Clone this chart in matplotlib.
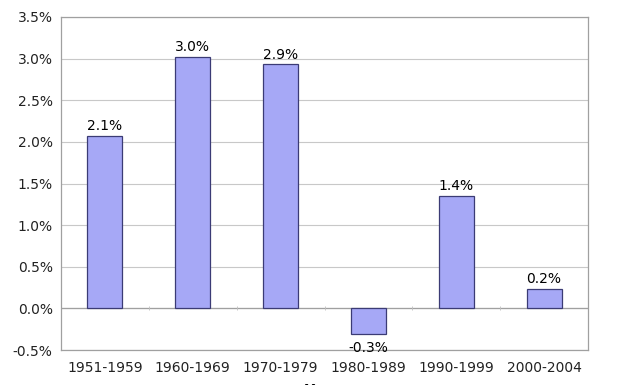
import numpy as np
import matplotlib
matplotlib.use("Agg")
import matplotlib.pyplot as plt
from matplotlib.ticker import FuncFormatter

periods = ["1951-1959", "1960-1969", "1970-1979", "1980-1989", "1990-1999", "2000-2004"]
growth = [2.07, 3.02, 2.93, -0.31, 1.35, 0.23]
labels = ["2.1%", "3.0%", "2.9%", "-0.3%", "1.4%", "0.2%"]

plt.rcParams["font.family"] = "DejaVu Sans"

fig = plt.figure(figsize=(6.33, 3.85), dpi=100)
ax = fig.add_axes([61 / 633, 35 / 385, 527 / 633, 333 / 385])

x = np.arange(len(periods))
bars = ax.bar(x, growth, width=0.4, color="#a6a8f6", edgecolor="#3b3b75", linewidth=0.9, zorder=3)

for b, v, t in zip(bars, growth, labels):
    cx = b.get_x() + b.get_width() / 2
    if v >= 0:
        ax.annotate(t, (cx, v), xytext=(0, 2), textcoords="offset points",
                    ha="center", va="bottom", fontsize=10)
    else:
        ax.annotate(t, (cx, v), xytext=(0, -5), textcoords="offset points",
                    ha="center", va="top", fontsize=10, zorder=4)

ax.set_xlim(-0.5, len(periods) - 0.5)
ax.set_ylim(-0.5, 3.5)
ax.set_yticks(np.arange(-0.5, 3.51, 0.5))
ax.yaxis.set_major_formatter(FuncFormatter(lambda v, p: f"{v:.1f}%"))
ax.set_xticks(x)
ax.set_xticklabels(periods)
ax.tick_params(axis="both", length=0, labelsize=10, colors="#222222")
ax.tick_params(axis="y", pad=6)
ax.tick_params(axis="x", pad=8)

ax.grid(axis="y", color="#c8c8c8", linewidth=0.8, zorder=0)
for s in ax.spines.values():
    s.set_color("#a0a0a0")
    s.set_linewidth(0.9)

# category axis line at zero with small tick marks between categories
ax.axhline(0, color="#a0a0a0", linewidth=0.9, zorder=2)
bounds = np.arange(0.5, len(periods) - 0.5, 1.0)
ax.plot(bounds, np.zeros_like(bounds), linestyle="none", marker="|",
        markersize=3, markeredgewidth=0.6, color="#c0c0c0", zorder=2)

# axis titles, mostly cut off by the frame of the picture (as in the original)
fig.text(-0.012, 0.38, "Growth", rotation=90, ha="center", va="center", fontsize=10, fontweight="bold")
fig.text(0.515, -0.012, "Years", ha="center", va="center", fontsize=10, fontweight="bold")

fig.savefig("out.png", dpi=100)
